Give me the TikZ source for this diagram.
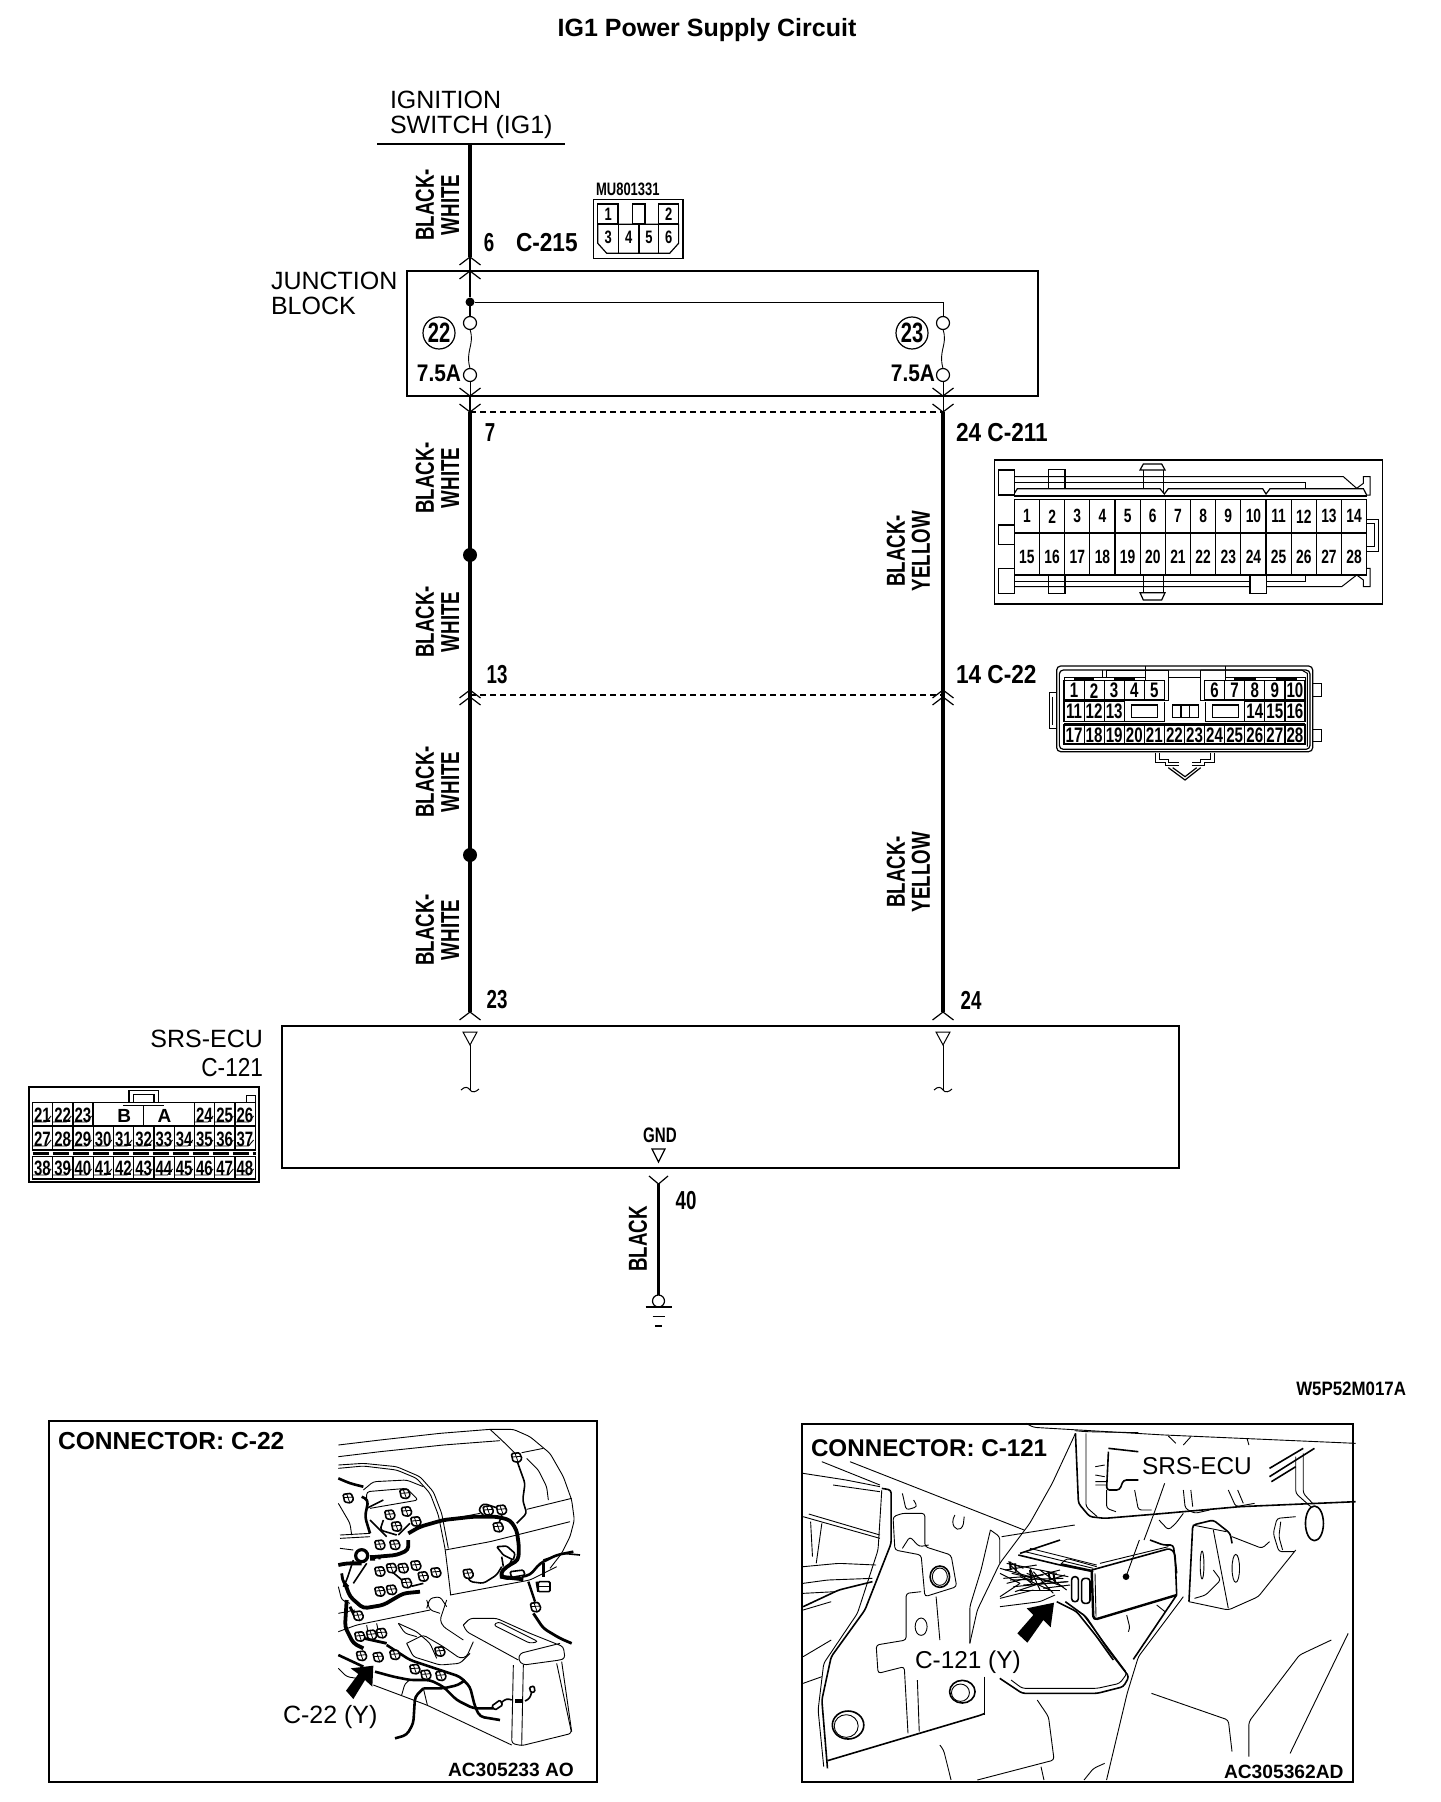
\documentclass[tikz,border=0pt]{standalone}
\usepackage{fontspec}
\setmainfont{Liberation Sans}
\newfontfamily\lbn[FakeStretch=0.72]{Liberation Sans}
\newfontfamily\lbm[FakeStretch=0.87]{Liberation Sans}
\newcommand\fsz[1]{\fontsize{#1}{#1}\selectfont}
\tikzset{
 every node/.style={inner sep=0pt,outer sep=0pt},
 wire/.style={line width=2.4pt},
 thinw/.style={line width=0.45pt},
 boxl/.style={line width=0.75pt},
 chev/.style={line width=0.6pt},
 dashw/.style={line width=0.65pt,dash pattern=on 3pt off 2pt},
 fuse/.style={circle,draw,line width=0.6pt,minimum size=6.5pt,fill=white},
 cref/.style={circle,draw,line width=0.6pt,minimum size=16pt},
 lab/.style={font=\lbn\bfseries\fsz{13}},
 labm/.style={font=\lbm\bfseries\fsz{13}},
 rlab/.style={font=\fsz{12.5},anchor=west},
 wlab/.style={font=\lbn\bfseries\fsz{13},rotate=90},
 cell/.style={line width=0.6pt},
 ill/.style={line width=0.45pt,rounded corners=1.5pt,line join=round},
 illw/.style={line width=0.8pt,rounded corners=1.5pt,line join=round},
 illt/.style={line width=1.9pt,rounded corners=2pt,line join=round},
 cnn/.style={line width=0.8pt,fill=white,rounded corners=0.6pt},
 plab/.style={font=\bfseries\fsz{12.3},anchor=west},
 pcode/.style={font=\bfseries\fsz{9.6},anchor=west},
 clab/.style={font=\fsz{12.2},anchor=west,fill=white,inner sep=1pt},
}
\newcommand\chup[2]{\draw[chev] (#1-10.5,#2+8) -- (#1,#2) -- (#1+10.5,#2+8);}
\newcommand\chdn[2]{\draw[chev] (#1-10.5,#2-8) -- (#1,#2) -- (#1+10.5,#2-8);}
\newcommand\cnr[2]{\draw[cnn] (#1-16,#2-12) -- (#1+8,#2-15) -- (#1+16,#2+3) -- (#1+7,#2+14) -- (#1-11,#2+11) -- cycle; \draw[line width=0.4pt] (#1-5,#2-13) -- (#1+4,#2+12) (#1-14,#2-2) -- (#1+14,#2-4);}
\begin{document}
\begin{tikzpicture}[x=0.5pt,y=-0.5pt]
\useasboundingbox (0,0) rectangle (1440,1802);
\fill[white] (0,0) rectangle (1440,1802);
% title
\node[font=\bfseries\fsz{12.5}] (title) at (707,30) {IG1 Power Supply Circuit};
% coordinates of the circuit
\coordinate (bl) at (377,144); \coordinate (br) at (565,144);
\coordinate (sw) at (470,144);
\coordinate (c215) at (470,257);
\coordinate (jt) at (470,271);
\node[circle,fill,minimum size=4.5pt] (jdot) at (470,302) {};
\node[fuse] (f1a) at (470,323) {};
\node[fuse] (f1b) at (470,375) {};
\node[fuse] (f2a) at (943,323) {};
\node[fuse] (f2b) at (943,375) {};
\coordinate (l1) at (470,396); \coordinate (l2) at (470,412);
\coordinate (r1) at (943,396); \coordinate (r2) at (943,412);
\coordinate (lb) at (470,1012); \coordinate (rb) at (943,1012);
\node[circle,fill,minimum size=7pt] (s1) at (470,555) {};
\node[circle,fill,minimum size=7pt] (s2) at (470,855) {};
\coordinate (m1) at (470,695); \coordinate (m2) at (943,695);
% boxes
\draw[line width=1.3pt] (bl) -- (br);
\draw[boxl] (407,271) rectangle (1038,396);
\draw[boxl] (282,1026) rectangle (1179,1168);
% wires
\draw[wire] (sw) -- (c215);
\draw[line width=1pt] (c215) -- (jdot);
\draw[line width=0.7pt] (jdot) -- (f1a);
\draw[thinw] (jdot) -| (f2a);
\draw[thinw] (f1a.south) .. controls (475,345) and (465,350) .. (f1b.north);
\draw[thinw] (f2a.south) .. controls (948,345) and (938,350) .. (f2b.north);
\draw[thinw] (f1b) -- (l1); \draw[thinw] (f2b) -- (r1);
\draw[line width=1pt] (l1) -- (l2);
\draw[thinw] (r1) -- (r2);
\draw[wire] (l2) -- (lb);
\draw[wire] (r2) -- (rb);
\draw[dashw] (l2) -- (r2);
\draw[dashw] (m1) -- (m2);
% chevrons
\chup{470}{257}\chup{470}{271}
\chdn{470}{396}\chdn{470}{412}
\chdn{943}{396}\chdn{943}{412}
\chup{470}{690}\chup{470}{697}
\chup{943}{690}\chup{943}{697}
\chup{470}{1012}\chup{943}{1012}
\draw[chev] (649,1176) -- (658.5,1184) -- (668,1176);
% circuit labels
\node[rlab] (ign) at (390,100) {IGNITION};
\node[rlab] (swi) at (390,127) {SWITCH (IG1)};
\node[rlab] (jun) at (271,281) {JUNCTION};
\node[rlab] (blk) at (271,306) {BLOCK};
\node[lab] (t6) at (489,243) {6};
\node[labm,anchor=west] (t215) at (516,243) {C-215};
\node[lab] (t7) at (490,433) {7};
\node[labm,anchor=west] (t211) at (956,433) {24 C-211};
\node[lab] (t13) at (497,675) {13};
\node[labm,anchor=west] (t22) at (956,675) {14 C-22};
\node[lab] (t23) at (497,1000) {23};
\node[lab] (t24) at (971,1000) {24};
\node[lab] (t40) at (686,1201) {40};
\node[cref,font=\lbn\bfseries\fsz{14}] (c22) at (439,333) {22};
\node[cref,font=\lbn\bfseries\fsz{14}] (c23) at (912,333) {23};
\node[anchor=east,font=\lbm\bfseries\fsz{12}] (a1) at (461,373) {7.5A};
\node[anchor=east,font=\lbm\bfseries\fsz{12}] (a2) at (935,373) {7.5A};
% wire colour labels
\foreach \n/\y/\b/\w in {p1/205/BLACK-/WHITE, p2/478/BLACK-/WHITE, p3/622/BLACK-/WHITE, p4/782/BLACK-/WHITE, p5/930/BLACK-/WHITE}{
 \node[wlab,anchor=south] (\n a) at (434,\y) {\b};
 \node[wlab,anchor=south] (\n b) at (459,\y) {\w};
}
\foreach \n/\y in {q1/551,q2/872}{
 \node[wlab,anchor=south] (\n a) at (905,\y) {BLACK-};
 \node[wlab,anchor=south] (\n b) at (930,\y) {YELLOW};
}
\node[wlab,anchor=south] (pb) at (647,1239) {BLACK};
\node[font=\fsz{12.5},anchor=east] (srs) at (263,1039) {SRS-ECU};
\node[anchor=east,font=\lbm\fsz{13}] (cc) at (263,1068) {C-121};
\node[font=\lbm\bfseries\fsz{9.7},anchor=east] (wcode) at (1406,1389) {W5P52M017A};
% SRS inside symbols
\foreach \x/\n in {470/u,943/v}{
 \coordinate (\n t) at (\x,1045);
 \coordinate (\n e) at (\x,1090);
 \draw[line width=0.5pt] (\x-7,1032) -- (\x+7,1032) -- (\x,1045) -- cycle;
 \draw[line width=0.5pt] (\n t) -- (\n e);
 \draw[line width=0.5pt] (\x-9,1090) .. controls (\x-5,1086) and (\x-2,1087) .. (\n e) .. controls (\x+2,1093) and (\x+6,1092) .. (\x+9,1089);
}
\node[font=\lbn\bfseries\fsz{10.5}] (gnd) at (660,1135) {GND};
\draw[line width=0.6pt] (652,1149) -- (665,1149) -- (658.5,1162) -- cycle;
% ground
\coordinate (g1) at (658.5,1184);
\node[circle,draw,line width=0.6pt,minimum size=6pt] (gc) at (658.5,1301) {};
\draw[line width=1.9pt] (g1) -- (gc);
\draw[line width=0.7pt] (645.5,1307) -- (671.5,1307);
\draw[line width=0.5pt] (652.5,1316) -- (664.5,1316);
\draw[line width=1pt] (655,1326) -- (662,1326);
% connector MU
\begin{scope}[shift={(380,80)},x=0.2245pt,y=-0.16667pt]
 \node[font=\lbn\bfseries\fsz{9}] (mu) at (552,329) {MU801331};
 \draw[line width=0.7pt] (476,358) rectangle (675,535);
 \draw[line width=0.6pt] (485,372) rectangle (530,430);
 \draw[line width=0.6pt] (562,372) rectangle (590,430);
 \draw[line width=0.6pt] (620,372) rectangle (665,430);
 \draw[line width=0.6pt] (485,433) -- (665,433) -- (665,490) -- (645,520) -- (505,520) -- (485,490) -- cycle;
 \foreach \x in {532,577,621}{\draw[line width=0.6pt] (\x,433) -- (\x,520);}
 \foreach \x/\y/\t in {508/402/1,643/402/2,508/472/3,554/472/4,599/472/5,643/472/6}{
  \node[font=\lbn\bfseries\fsz{9}] (m\t) at (\x,\y) {\t};}
\end{scope}
% connector C-211 and C-22
\begin{scope}[shift={(980,440)},x=0.16667pt,y=-0.16667pt]
 \draw[line width=0.8pt] (43,60) rectangle (1207,492);
 \foreach \a/\b/\c/\d in {55/90/103/165,55/255/103/313,55/385/103/460,205/88/255/145,205/405/255/460,810/405/860/460}{
  \draw[line width=0.6pt] (\a,\b) rectangle (\c,\d);}
 \draw[line width=0.5pt] (103,110) -- (1090,110) -- (1130,145);
 \draw[line width=0.5pt] (103,127) -- (975,127) -- (975,145);
 \draw[line width=0.6pt] (103,160) -- (112,146) -- (540,146) -- (553,162) -- (565,146) -- (848,146) -- (858,162) -- (870,146) -- (1150,146) -- (1160,165);
 \draw[line width=0.5pt] (490,90) -- (490,145) (550,90) -- (550,160);
 \draw[line width=0.6pt] (480,90) -- (490,72) -- (545,72) -- (555,90) -- cycle;
 \draw[line width=0.5pt] (103,425) -- (810,425) (860,425) -- (975,425) -- (975,405);
 \draw[line width=0.5pt] (103,440) -- (810,440) (860,440) -- (1085,440) -- (1130,405);
 \draw[line width=0.5pt] (490,405) -- (490,458) (550,405) -- (550,458);
 \draw[line width=0.6pt] (480,458) -- (555,458) -- (545,480) -- (490,480) -- cycle;
 \draw[line width=0.5pt] (1130,145) -- (1150,130) -- (1150,110) -- (1170,110) -- (1170,165) -- (1160,165);
 \draw[line width=0.5pt] (1130,405) -- (1150,420) -- (1150,440) -- (1170,440) -- (1170,385) -- (1160,385);
 \draw[line width=0.5pt] (1160,237) -- (1195,237) -- (1195,333) -- (1160,333) (1160,250) -- (1183,250) -- (1183,320) -- (1160,320);
 \draw[line width=0.7pt] (103,168) -- (1160,168);
 \foreach \i in {0,...,13}{
  \pgfmathsetmacro\xa{103+75.5*\i}
  \pgfmathsetmacro\xb{\xa+75.5}
  \pgfmathsetmacro\xc{\xa+37.75}
  \pgfmathtruncatemacro\na{\i+1}
  \pgfmathtruncatemacro\nb{\i+15}
  \draw[cell] (\xa,178) rectangle (\xb,280);
  \draw[cell] (\xa,280) rectangle (\xb,405);
  \node[font=\lbn\bfseries\fsz{9.6}] (da\na) at (\xc,229) {\na};
  \node[font=\lbn\bfseries\fsz{9.6}] (da\nb) at (\xc,351) {\nb};
 }
 \draw[line width=0.9pt] (103,280) -- (1160,280);
 % C-22
 \draw[line width=0.6pt,rounded corners=2pt] (230,678) rectangle (998,935);
 \draw[line width=0.6pt,rounded corners=2pt] (238,690) rectangle (990,928);
 \draw[line width=0.5pt] (368,690) -- (368,712) (380,712) -- (380,690) -- (565,690) -- (565,780) -- (554,780);
 \draw[line width=0.5pt] (662,690) -- (965,690) -- (982,700) -- (982,920);
 \draw[line width=0.5pt] (662,690) -- (662,780) -- (675,780);
 \draw[line width=0.5pt] (565,712) -- (662,712) (495,678) -- (495,720) (735,678) -- (735,720);
 \draw[line width=0.5pt] (252,720) -- (252,712) -- (495,712);
 \draw[line width=0.5pt] (735,712) -- (975,712) -- (975,720);
 \draw[line width=1.2pt] (282,716) -- (342,716) (402,716) -- (465,716) (762,716) -- (828,716) (887,716) -- (950,716);
 \draw[line width=0.5pt] (207,758) -- (228,758) (207,758) -- (207,865) -- (228,865) (216,770) -- (216,855);
 \draw[line width=0.5pt] (1000,730) -- (1025,730) -- (1025,768) -- (1000,768) (1000,868) -- (1025,868) -- (1025,905) -- (1000,905);
 \draw[line width=0.5pt] (527,938) -- (527,967) -- (555,967) -- (555,975) -- (598,975) (537,938) -- (537,958) -- (565,958) -- (565,968) -- (598,968);
 \draw[line width=0.5pt] (702,938) -- (702,967) -- (672,967) -- (672,975) -- (635,975) (692,938) -- (692,958) -- (662,958) -- (662,968) -- (635,968);
 \draw[line width=0.6pt] (565,983) -- (615,1020) -- (662,983) (578,983) -- (615,1010) -- (650,983);
 \foreach \c/\t in {0/1,1/2,2/3,3/4,4/5}{
  \pgfmathsetmacro\xa{252+60.25*\c}\pgfmathsetmacro\xb{\xa+60.25}\pgfmathsetmacro\xc{\xa+30}
  \draw[cell] (\xa,722) rectangle (\xb,780);
  \node[font=\lbn\bfseries\fsz{10.5}] (db\t) at (\xc,752) {\t};}
 \foreach \c/\t in {7/6,8/7,9/8,10/9,11/10}{
  \pgfmathsetmacro\xa{252+60.25*\c}\pgfmathsetmacro\xb{\xa+60.25}\pgfmathsetmacro\xc{\xa+30}
  \draw[cell] (\xa,722) rectangle (\xb,780);
  \node[font=\lbn\bfseries\fsz{10.5}] (db\t) at (\xc,752) {\t};}
 \foreach \c/\t in {0/11,1/12,2/13,9/14,10/15,11/16}{
  \pgfmathsetmacro\xa{252+60.25*\c}\pgfmathsetmacro\xb{\xa+60.25}\pgfmathsetmacro\xc{\xa+30}
  \draw[cell] (\xa,785) rectangle (\xb,845);
  \node[font=\lbn\bfseries\fsz{10.5}] (db\t) at (\xc,814) {\t};}
 \foreach \c/\t in {0/17,1/18,2/19,3/20,4/21,5/22,6/23,7/24,8/25,9/26,10/27,11/28}{
  \pgfmathsetmacro\xa{252+60.25*\c}\pgfmathsetmacro\xb{\xa+60.25}\pgfmathsetmacro\xc{\xa+30}
  \draw[cell] (\xa,855) rectangle (\xb,912);
  \node[font=\lbn\bfseries\fsz{10.5}] (db\t) at (\xc,885) {\t};}
 \draw[line width=0.7pt] (252,850) -- (975,850);
 \draw[line width=0.6pt] (455,795) rectangle (532,832) (697,795) rectangle (775,832) (578,795) rectangle (655,832);
 \draw[line width=0.6pt] (603,795) -- (603,832) (628,795) -- (628,832);
 \draw[line width=0.5pt] (433,785) -- (433,845) -- (554,845) (554,785) -- (554,845) (675,785) -- (675,845) -- (795,845);
\end{scope}
% connector C-121
\begin{scope}[shift={(20,1000)},x=0.2245pt,y=-0.16667pt]
 \draw[line width=0.9pt] (20,260) rectangle (533,545);
 \draw[line width=0.7pt] (243,307) -- (243,272) -- (308,272) -- (308,307) (253,307) -- (253,283) -- (298,283) -- (298,307);
 \draw[line width=0.5pt] (505,307) -- (505,287) -- (525,287) -- (525,307);
 \draw[cell] (162,307) rectangle (388,378);
 \draw[line width=0.8pt] (230,316) -- (320,316) (275,316) -- (275,378);
 \node[font=\bfseries\fsz{9.5}] (cB) at (232,347) {B};
 \node[font=\bfseries\fsz{9.5}] (cA) at (322,347) {A};
 \newcommand\ecell[4]{%
  \pgfmathsetmacro\xa{28+45.1*#1}\pgfmathsetmacro\xb{\xa+45.1}\pgfmathsetmacro\xc{\xa+22}\pgfmathsetmacro\xd{\xa+22}
  \draw[cell] (\xa,#2) rectangle (\xb,#3);
  \draw[line width=0.45pt] (\xa,#3-12) -- (\xb-15,#3-12) -- (\xb-4,#3-30);
  \node[font=\lbn\bfseries\fsz{10.4}] (dc#4) at (\xc,#3-33) {#4};}
 \foreach \c/\t in {0/21,1/22,2/23,8/24,9/25,10/26}{\ecell{\c}{307}{378}{\t}}
 \foreach \c/\t in {0/27,1/28,2/29,3/30,4/31,5/32,6/33,7/34,8/35,9/36,10/37}{\ecell{\c}{380}{450}{\t}}
 \foreach \c/\t in {0/38,1/39,2/40,3/41,4/42,5/43,6/44,7/45,8/46,9/47,10/48}{\ecell{\c}{470}{537}{\t}}
 \draw[line width=1.5pt,dash pattern=on 8pt off 2pt] (28,460) -- (525,460);
\end{scope}
% panel A
\draw[line width=1.3pt] (49,1421) rectangle (597,1782);
\node[plab] (pa) at (58,1441) {CONNECTOR: C-22};
\begin{scope}[shift={(330,1420)},x=0.16667pt,y=-0.16667pt]
 \draw[ill] (25,75) -- (150,60) -- (330,40) -- (480,28) -- (550,28) -- (600,50) -- (660,100) -- (700,170) -- (725,240) -- (733,300) -- (720,350) -- (695,400) -- (660,445);
 \draw[ill] (25,110) -- (150,95) -- (340,75) -- (470,65) -- (510,62);
 \draw[ill] (480,28) -- (520,65) -- (555,100);
 \draw[ill] (575,98) -- (640,85);
 \draw[ill] (590,115) -- (625,150) -- (650,200) -- (655,240);
 \draw[ill] (590,268) -- (725,235);
 \draw[ill] (25,145) -- (100,138) -- (200,150) -- (260,175) -- (300,220) -- (325,285) -- (345,385) -- (358,490) -- (362,525);
 \draw[ill] (25,135) -- (100,130) -- (200,140) -- (270,170) -- (310,215) -- (335,280) -- (355,385);
 \draw[ill] (345,390) -- (480,365) -- (720,305);
 \draw[ill] (345,300) -- (450,280);
 \draw[ill] (360,525) -- (600,480) -- (680,440);
 \draw[ill] (100,210) -- (130,185) -- (230,180) -- (280,200);
 \draw[ill] (110,240) -- (110,215) -- (230,205) -- (265,240) -- (120,265);
 \draw[ill] (25,250) -- (60,310) -- (65,345);
 \draw[ill] (30,345) -- (120,340);
 \draw[ill] (30,355) -- (120,350);
 \draw[ill] (30,385) -- (70,390);
 \draw[ill] (290,565) -- (300,535) -- (330,530) -- (350,560);
 \draw[ill] (25,500) -- (35,540) -- (60,550);
 % thick harness
 \draw[illt] (235,340) -- (270,320) -- (340,300) -- (430,290) -- (500,290) -- (540,300) -- (560,330) -- (567,380) -- (565,420) -- (530,440) -- (510,460) -- (520,475) -- (570,470);
 \draw[illt] (235,360) -- (235,390) -- (200,405) -- (120,412);
 \draw[illt] (510,470) -- (580,478);
 \draw[illw] (460,285) -- (445,270) -- (460,250) -- (520,270) -- (505,315);
 \draw[illw] (560,120) -- (585,190) -- (578,240) -- (590,280) -- (560,310);
 \draw[illw] (410,465) -- (420,485) -- (460,490) -- (500,465) -- (515,440);
 \draw[illw] (515,410) -- (520,440);
 \draw[illw] (545,420) -- (535,440);
 \draw[illt,line width=1.3pt] (575,470) -- (600,465) -- (630,430) -- (680,405) -- (730,395);
 \draw[illt,line width=1.2pt] (640,430) -- (640,470);
 \draw[illw] (640,420) -- (700,400) -- (750,405);
 \draw[illt,line width=1.2pt] (595,485) -- (610,530) -- (615,545);
 \draw[illt,line width=1.2pt] (620,485) -- (625,515);
 \draw[illt] (25,435) -- (50,430) -- (95,430);
 \draw[illt,line width=1.4pt] (35,460) -- (40,490) -- (55,500);
 \draw[illt] (45,490) -- (60,530) -- (100,565) -- (160,555) -- (220,520) -- (270,515);
 \draw[illt,line width=1.3pt] (25,175) -- (60,190) -- (100,200);
 \draw[illt,line width=1.3pt] (95,230) -- (115,240) -- (105,290) -- (120,340);
 \draw[illw] (120,300) -- (170,350);
 \draw[illw] (110,265) -- (160,240);
 \draw[illw] (160,300) -- (150,330) -- (200,345);
 \draw[illw] (205,345) -- (240,310);
 \draw[illw] (70,420) -- (50,480) -- (40,500);
 \draw[illw] (110,430) -- (70,490);
 \draw[illw] (180,450) -- (240,500) -- (280,490);
 \draw[line width=1.6pt] (95,407) circle[radius=18];
 \fill (120,405) rectangle (135,422) (145,405) rectangle (152,418);
 \foreach \x/\y in {560/113,505/322,415/462,150/375,195/375,180/285,230/275,258/305,200/320,225/222,55/235,150/455,185/445,220/445,258/437,280/470,318/458,230/490,150/515,185/510,475/272,515/270}{\cnr{\x}{\y}}
 \draw[cnn] (500,380) -- (530,378) -- (555,400) -- (550,420) -- (520,405) -- cycle;
 \draw[cnn] (625,485) -- (660,485) -- (660,515) -- (625,515) -- cycle;
 \draw[line width=0.4pt] (625,498) -- (660,498);
 \draw[cnn] (540,455) -- (580,450) -- (585,465) -- (545,472) -- cycle;
\end{scope}
\begin{scope}[shift={(330,1600)},x=0.16667pt,y=-0.16667pt]
 \draw[ill] (400,75) -- (420,55) -- (500,55) -- (600,100) -- (700,140) -- (705,175) -- (690,180) -- (580,195) -- (565,180) -- (570,160) -- (690,130);
 \draw[ill] (400,75) -- (410,95) -- (565,180);
 \draw[ill] (505,65) -- (625,125) -- (600,130) -- (490,75) -- cycle;
 \draw[ill] (550,195) -- (545,430) -- (575,437) -- (725,400) -- (680,190);
 \draw[ill] (580,195) -- (575,437);
 \draw[ill] (695,185) -- (725,395);
 \draw[ill] (545,435) -- (290,315) -- (130,255);
 \draw[ill] (230,130) -- (280,105) -- (340,140) -- (390,175) -- (410,170) -- (430,125);
 \draw[ill] (230,130) -- (250,170) -- (330,195) -- (390,190) -- (420,160);
 \draw[ill] (205,70) -- (260,95) -- (300,130) -- (320,175);
 \draw[ill] (205,70) -- (225,100) -- (260,110);
 \draw[ill] (350,0) -- (330,60) -- (340,80) -- (400,120);
 \draw[ill] (290,0) -- (300,30) -- (330,40);
 \draw[ill] (25,95) -- (80,75) -- (300,30);
 \draw[ill] (25,40) -- (75,30);
 \draw[ill] (110,75) -- (115,105) (140,70) -- (145,95);
 \draw[ill] (215,285) -- (225,250) -- (240,240);
 \draw[ill] (280,265) -- (292,315);
 \draw[ill] (25,205) -- (50,230) -- (80,235);
 % wires
 \draw[illt,line width=1.3pt] (135,215) -- (190,230) -- (240,240) -- (300,240) -- (340,260) -- (380,300) -- (430,325) -- (490,325);
 \draw[illt,line width=1.3pt] (170,135) -- (240,180) -- (300,200) -- (390,230) -- (420,260) -- (435,320) -- (450,350) -- (510,360);
 \draw[illt,line width=1.3pt] (280,265) -- (255,290) -- (250,370) -- (230,405) -- (195,415);
 \draw[illt,line width=1.3pt] (280,265) -- (340,265) -- (385,255) -- (405,240);
 \draw[illw] (505,315) -- (530,295) -- (545,300);
 \draw[line width=1.8pt] (555,303) -- (575,303);
 \draw[illw] (585,303) -- (600,295) -- (605,275);
 \draw[illt] (50,0) -- (45,80) -- (70,130) -- (100,145);
 \draw[illt,line width=1.4pt] (80,110) -- (170,130);
 \draw[illt,line width=1.4pt] (60,20) -- (75,50);
 \draw[illt,line width=1.4pt] (610,40) -- (640,85) -- (690,115) -- (725,130);
 \draw[line width=1.3pt] (25,165) -- (100,200);
 \foreach \x/\y in {85/48,90/110,125/105,155/100,95/168,145/172,195/165,255/208,288/225,333/228,617/22,330/155}{\cnr{\x}{\y}}
 \draw[cnn] (485,318) -- (510,300) -- (518,315) -- (495,330) -- cycle;
 \draw[cnn] (598,262) -- (612,258) -- (615,275) -- (603,278) -- cycle;
 \fill[black] (130,197) -- (127,260) -- (105,240) -- (70,297) -- (48,272) -- (85,222) -- (62,205) -- cycle;
\end{scope}
\node[font=\fsz{12.5},anchor=west] (cy) at (283,1717) {C-22 (Y)};
\node[pcode] (ca) at (448,1770) {AC305233 AO};
% panel B
\begin{scope}[shift={(790,1410)},x=0.1873pt,y=-0.16667pt]
 \draw[ill] (630,40) -- (650,52) -- (1000,75) -- (1510,100);
 \draw[ill] (760,62) -- (790,65) -- (930,68);
 \draw[ill] (1010,78) -- (1030,100) (1070,80) -- (1050,105) (1220,85) -- (1225,105);
 \draw[ill] (85,155) -- (240,225);
 \draw[ill] (160,155) -- (625,360);
 \draw[ill] (35,190) -- (150,210) -- (240,230);
 \draw[ill] (115,225) -- (240,245);
 \draw[ill] (762,70) -- (700,220) -- (640,340) -- (560,460) -- (500,600) -- (480,700);
 \draw[ill] (565,380) -- (760,345);
 \draw[ill] (535,360) -- (560,380) -- (560,460);
 \draw[ill] (535,360) -- (510,480) -- (480,590) -- (480,700);
 \draw[illw] (245,235) -- (270,240) -- (270,400) -- (200,600) -- (110,740) -- (85,870) -- (100,1075);
 \draw[ill] (245,240) -- (235,420) -- (180,610) -- (90,760) -- (75,900) -- (90,1070);
 \draw[illw] (100,1052) -- (510,915) -- (520,910);
 \draw[ill] (520,800) -- (520,915);
 \draw[ill] (275,320) -- (300,310) -- (360,310) -- (360,410) -- (430,435) -- (445,530) -- (360,560) -- (350,435) -- (280,420) -- cycle;
 \draw[ill] (300,415) -- (320,380) -- (345,410) -- (370,405);
 \draw[ill] (300,250) -- (310,300) -- (340,290) -- (330,270);
 \draw[illw] (400,500) ellipse[x radius=26,y radius=32];
 \draw[ill] (400,500) ellipse[x radius=20,y radius=26];
 \draw[ill] (350,545) -- (310,550) -- (310,690) -- (230,705) -- (235,790) -- (305,770) -- (315,970);
 \draw[ill] (340,810) -- (345,965);
 \draw[ill] (350,650) ellipse[x radius=16,y radius=26];
 \draw[ill] (390,560) -- (400,690);
 \draw[ill] (440,315) .. controls (425,345) and (445,365) .. (462,350) -- (465,320);
 \foreach \x/\y/\r in {460/845/34,155/945/42}{
  \draw[illw] (\x,\y) ellipse[x radius=\r,y radius=\r];
  \draw[ill] (\x-5,\y+3) ellipse[x radius=\r-10,y radius=\r-8];}
 \draw[ill] (35,320) -- (240,385) (50,312) -- (240,375);
 \draw[ill] (35,470) -- (130,460) -- (230,465);
 \draw[ill] (35,520) -- (100,510) -- (220,505);
 \draw[illw] (35,590) -- (130,540) -- (220,515);
 \draw[ill] (35,600) -- (110,575);
 \draw[ill] (35,550) -- (120,545);
 \draw[ill] (55,335) -- (60,440) (85,340) -- (70,460);
 \draw[ill] (35,740) -- (110,690) (35,820) -- (85,800);
 % top right
 \draw[illw] (762,70) -- (770,280) -- (800,320) -- (840,325) -- (1000,310) -- (1200,290) -- (1510,275);
 \draw[ill] (790,70) -- (790,290) -- (820,320);
 \draw[illw] (850,115) -- (930,125);
 \draw[illw] (850,125) -- (845,240) -- (880,240) -- (890,210) -- (930,210);
 \draw[ill] (815,170) -- (840,165) (815,195) -- (840,200) (815,215) -- (845,215) (815,225) -- (845,225);
 \draw[ill] (845,240) -- (845,295) -- (870,305);
 \draw[ill] (920,240) -- (930,300) -- (965,300);
 \draw[ill] (1050,240) -- (1055,295) -- (1080,310) -- (1120,300);
 \draw[ill] (1070,240) -- (1075,290);
 \draw[ill] (1170,240) -- (1190,290) -- (1240,280) (1195,240) -- (1210,280);
 \draw[ill] (1350,140) -- (1350,250) -- (1390,290) (1370,130) -- (1370,250) -- (1395,280);
 \draw[illw] (1280,200) -- (1400,115) (1280,175) -- (1370,115) (1285,215) -- (1350,170);
 \draw[illw] (1400,340) ellipse[x radius=24,y radius=52];
 \draw[ill] (1350,320) -- (1300,325) -- (1290,370) -- (1305,425) -- (1345,425);
 \draw[ill] (1310,335) -- (1305,380) -- (1315,420);
 \draw[ill] (1180,380) -- (1260,415) -- (1280,395);
 \draw[ill] (1350,420) -- (1250,560) -- (1170,600) -- (1065,575);
 \draw[illw] (1065,575) -- (1075,345) -- (1130,330) -- (1175,370) -- (1180,400);
 \draw[ill] (1075,345) -- (1165,365);
 \draw[ill] (1130,360) -- (1170,595);
 \draw[ill] (1190,475) ellipse[x radius=10,y radius=42];
 \draw[ill] (1100,465) ellipse[x radius=5,y radius=42];
 \draw[ill] (1130,480) -- (1150,510) -- (1110,555) -- (1080,565);
 \draw[ill] (985,330) -- (1010,360) -- (1030,340) -- (1050,310);
 \draw[ill] (1000,220) -- (975,300) -- (945,390);
 % lower right
 \draw[ill] (1050,560) -- (930,740) -- (900,850) -- (845,1110);
 \draw[ill] (965,850) -- (1170,930) -- (1180,1025);
 \draw[ill] (1225,1040) -- (1225,935) -- (1360,735) -- (1445,690);
 \draw[ill] (1335,1030) -- (1490,670);
 % lower loop
 \draw[illw] (735,575) -- (790,620) -- (850,720) -- (905,800) -- (890,830) -- (820,850) -- (620,850) -- (580,820) -- (560,805);
 \draw[ill] (780,610) -- (840,700) -- (900,790) -- (880,820) -- (820,835) -- (620,835) -- (590,810);
 \draw[ill] (660,870) -- (690,920) -- (705,1050) -- (500,1110);
 \draw[ill] (400,1005) -- (410,1020) -- (430,1110);
 \draw[ill] (670,1070) -- (678,1110);
 \draw[ill] (840,1060) -- (810,1075) -- (785,1110);
\end{scope}
% ECU detail
\begin{scope}[shift={(1000,1540)},x=0.16667pt,y=-0.16667pt]
 \draw[illw] (60,40) -- (180,0);
 \draw[illw] (55,45) -- (180,75) -- (280,95);
 \draw[ill] (90,25) -- (290,75);
 \draw[ill] (75,35) -- (280,85);
 \draw[ill] (185,70) -- (200,55) -- (290,80);
 \draw[line width=1pt] (182,72) -- (275,92);
 \draw[illw] (275,90) -- (510,25) -- (525,40) -- (530,165);
 \draw[ill] (300,70) -- (505,20);
 \draw[illt,line width=1.2pt] (530,165) -- (280,240) -- (275,90);
 \draw[ill] (285,100) -- (288,230);
 \draw[illw] (450,0) -- (490,15) -- (520,15) -- (530,100);
 \draw[illw] (215,110) rectangle (235,185);
 \draw[illw] (245,115) rectangle (270,190);
 \foreach \a/\b/\c/\d in {0/100/60/130,20/70/170/100,30/120/190/115,40/140/200/125,0/170/60/130,20/130/180/90,60/110/150/150,80/100/190/140,30/75/100/135,100/95/160/160,25/65/70/85,150/100/205/110,0/85/90/110,60/150/180/150,90/85/120/150,10/115/130/105,35/100/175/130,45/155/195/105,120/90/200/150,15/90/110/75,70/135/205/125,130/145/210/135}{
  \draw[line width=0.5pt] (\a,\b) -- (\c,\d);}
 \draw[line width=1pt] (30,65) -- (32,90) (45,70) -- (48,95) (90,90) -- (95,125) (145,95) -- (150,120) (160,100) -- (165,125);
 \draw[ill] (0,200) -- (120,185) -- (165,165);
 \draw[ill] (0,175) -- (100,150);
 \draw[illw] (170,185) -- (230,215) -- (290,290) -- (340,360);
 \draw[illw] (530,165) -- (400,358);
 \draw[ill] (380,225) -- (390,265) -- (385,275);
 \draw[ill] (470,195) -- (495,215);
 \draw[ill] (418,0) -- (378,110);
 \fill (378,110) circle[radius=10];
 \fill[black] (162,188) -- (152,262) -- (130,240) -- (82,308) -- (52,280) -- (100,225) -- (80,205) -- cycle;
\end{scope}
\draw[line width=0.75pt] (802,1424) rectangle (1353,1782);
\node[plab,font=\bfseries\fsz{12.1},fill=white,inner sep=1pt] (pb2) at (809,1448) {CONNECTOR: C-121};
\node[clab] (ce) at (1140,1466) {SRS-ECU};
\node[clab] (cz) at (913,1662) {C-121 (Y)};
\node[pcode,fill=white,inner sep=1pt] (cd) at (1222,1772) {AC305362AD};
\end{tikzpicture}
\end{document}
